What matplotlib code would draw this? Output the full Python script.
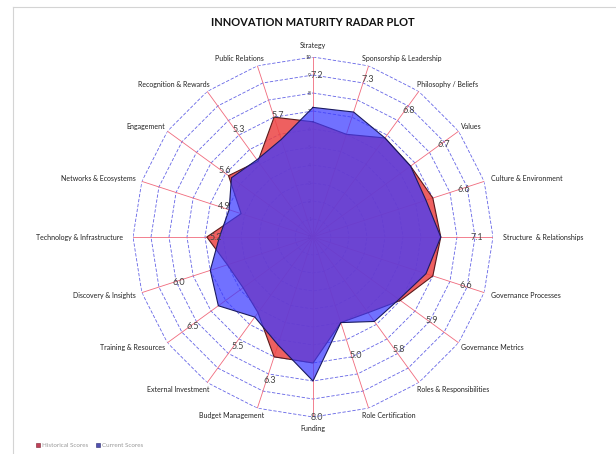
import numpy as np
import matplotlib
matplotlib.use('Agg')
import matplotlib.pyplot as plt
from matplotlib.patches import Patch
from matplotlib.lines import Line2D

# categories clockwise from the top
categories = ['Strategy', 'Sponsorship & Leadership', 'Philosophy / Beliefs', 'Values',
              'Culture & Environment', 'Structure  & Relationships', 'Governance Processes',
              'Governance Metrics', 'Roles & Responsibilities', 'Role Certification', 'Funding',
              'Budget Management', 'External Investment', 'Training & Resources',
              'Discovery & Insights', 'Technology & Infrastructure', 'Networks & Ecosystems',
              'Engagement', 'Recognition & Rewards', 'Public Relations']
historical = [6.4, 6.0, 6.8, 6.7, 7.0, 7.1, 7.0, 6.0, 5.2, 5.0,
              7.0, 7.0, 5.2, 4.8, 5.0, 5.9, 4.2, 5.8, 5.2, 7.0]
current = [7.2, 7.3, 6.8, 6.7, 6.6, 7.1, 6.6, 5.9, 5.8, 5.0,
           8.0, 6.3, 5.5, 6.5, 6.0, 5.2, 4.9, 5.6, 5.3, 5.7]
radial_ticks = list(range(0, 11))

# where the value labels sit along each spoke
label_r = [9.0, 9.2, 8.7, 8.7, 8.6, 8.9, 8.7, 7.9, 7.7, 6.9,
           10.0, 8.4, 7.5, 8.5, 8.1, 5.6, 5.4, 6.3, 7.4, 7.1]

plt.rcParams['font.family'] = ['Lato', 'DejaVu Sans']

fig = plt.figure(figsize=(6.16, 4.54), dpi=100)
ax = fig.add_axes([133 / 616, 37 / 454, 360 / 616, 360 / 454], projection='polar')
ax.set_theta_zero_location('N')
ax.set_theta_direction(-1)
ax.set_ylim(0, 10)
ax.grid(False)
ax.spines['polar'].set_visible(False)
ax.set_xticks([])
ax.set_yticks([])
ax.patch.set_alpha(0)

n = len(categories)
theta = np.arange(n) * 2 * np.pi / n
theta_c = np.append(theta, theta[0])

# polygon rings + spokes
for r in radial_ticks[1:]:
    ax.plot(theta_c, [r] * (n + 1), color='#6464e6', lw=0.6, ls=(0, (4, 2)), zorder=1)
for t in theta:
    ax.plot([t, t], [0, 10], color='#f06a7c', lw=0.6, zorder=1)

for r in radial_ticks:
    ax.annotate(str(r), xy=(0, r), xytext=(-2, 0), textcoords='offset pixels',
                ha='right', va='center', fontsize=3.6, color='#333333', zorder=1)

hist_c = np.append(historical, historical[0])
cur_c = np.append(current, current[0])
ax.fill(theta_c, hist_c, facecolor='#ec4444', alpha=0.85, zorder=2)
ax.plot(theta_c, hist_c, color='#5a1a1a', lw=0.8, zorder=2)
ax.fill(theta_c, cur_c, facecolor='#3a3aff', alpha=0.72, zorder=3)
ax.plot(theta_c, cur_c, color='#1a1a60', lw=0.8, zorder=3)

# category labels
for t, name in zip(theta, categories):
    s, c = np.sin(t), np.cos(t)
    if abs(s) < 0.05:
        ha, ox, oy = 'center', 0, 12 * c
    elif s > 0:
        ha, ox, oy = 'left', 10 * s - 10 * abs(c), 8 * c
    else:
        ha, ox, oy = 'right', 10 * s + 10 * abs(c), 8 * c
    ax.annotate(name, xy=(t, 10), xytext=(ox, oy), textcoords='offset pixels',
                ha=ha, va='center', fontsize=5, color='#222222', annotation_clip=False)

# value labels
for t, v, r in zip(theta, current, label_r):
    ax.annotate('%.1f' % v, xy=(t, r), xytext=(4, 0), textcoords='offset pixels',
                ha='center', va='center', fontsize=6.5,
                color='#444444', zorder=4, annotation_clip=False)

fig.text(313 / 616, 1 - 22 / 454, 'INNOVATION MATURITY RADAR PLOT', ha='center', va='center',
         fontsize=8, fontweight='bold', color='#111111')

# frame lines of the sheet
fig.add_artist(Line2D([13 / 616, 1], [1 - 7 / 454] * 2, color='#d4d4d4', lw=0.8))
fig.add_artist(Line2D([13 / 616] * 2, [0, 1 - 7 / 454], color='#d4d4d4', lw=0.8))

handles = [Patch(facecolor='#c04058', edgecolor='#7a2030', lw=0.4),
           Patch(facecolor='#5050b0', edgecolor='#2a2a70', lw=0.4)]
leg = fig.legend(handles, ['Historical Scores', 'Current Scores'], loc='lower left',
                 bbox_to_anchor=(30 / 616, 0.0), ncol=2, frameon=False, fontsize=4.5,
                 handlelength=0.7, handleheight=0.7, handletextpad=0.3, columnspacing=1.2)
for txt in leg.get_texts():
    txt.set_color('#999999')

fig.savefig('out.png', dpi=100)
